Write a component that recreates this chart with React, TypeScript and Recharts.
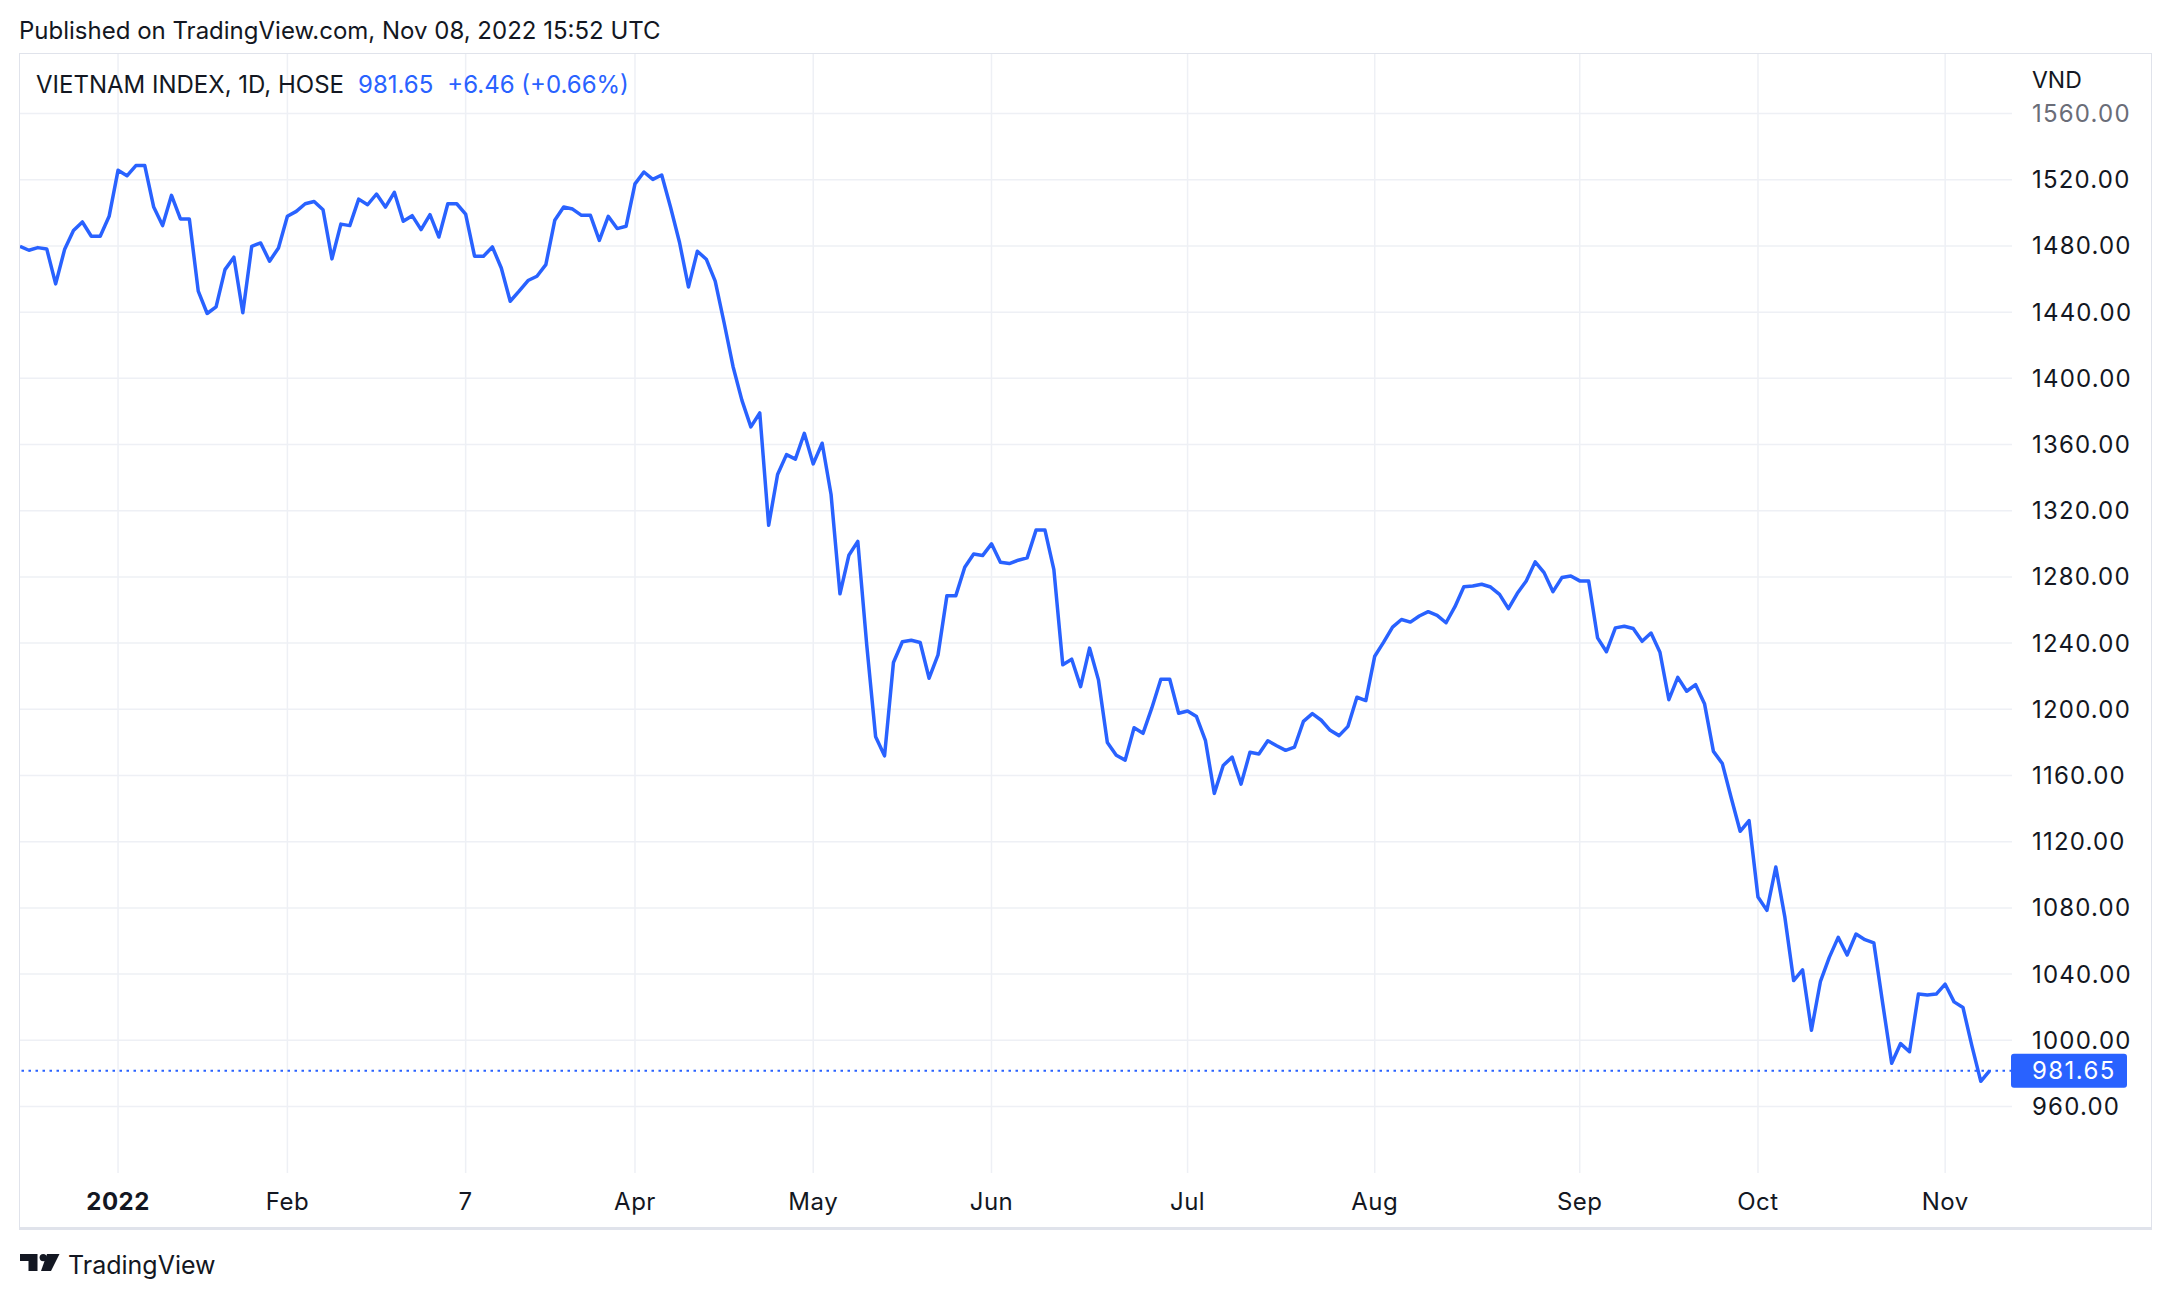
import React from 'react'
import {
  LineChart,
  Line,
  XAxis,
  YAxis,
  CartesianGrid,
  ReferenceLine,
} from 'recharts'

// VN-Index daily closes, 17 Dec 2021 .. 8 Nov 2022
const CLOSES: number[] = [
  1479.8, 1477.4, 1479.0, 1478.2, 1457.1, 1477.8, 1489.3, 1494.5, 1485.9, 1485.9,
  1497.9, 1525.7, 1522.4, 1528.6, 1528.6, 1503.5, 1492.3, 1510.6, 1496.3, 1496.3,
  1452.7, 1439.2, 1443.2, 1465.7, 1473.2, 1439.6, 1479.8, 1481.8, 1470.8, 1478.8,
  1497.9, 1500.9, 1505.5, 1506.9, 1501.9, 1472.2, 1493.2, 1492.3, 1508.3, 1504.9,
  1511.4, 1503.5, 1512.4, 1494.9, 1498.3, 1489.9, 1498.9, 1485.4, 1505.5, 1505.5,
  1499.3, 1473.8, 1473.8, 1479.4, 1466.7, 1446.6, 1452.7, 1459.1, 1461.7, 1468.7,
  1495.5, 1503.5, 1502.3, 1498.5, 1498.5, 1483.4, 1497.9, 1490.5, 1491.9, 1517.5,
  1524.7, 1520.2, 1522.9, 1503.2, 1482.1, 1455.2, 1476.8, 1472.0, 1458.8, 1433.6,
  1407.2, 1386.7, 1370.7, 1379.1, 1311.2, 1341.9, 1353.9, 1351.2, 1366.8, 1348.3,
  1360.8, 1329.8, 1269.8, 1293.1, 1301.5, 1239.1, 1183.4, 1171.9, 1228.3, 1240.8,
  1241.7, 1240.4, 1218.8, 1232.9, 1268.7, 1268.7, 1285.9, 1293.9, 1292.9, 1300.0,
  1288.9, 1288.1, 1290.1, 1291.5, 1308.3, 1308.3, 1284.4, 1226.9, 1230.3, 1213.7,
  1237.0, 1217.8, 1180.0, 1172.3, 1169.3, 1188.9, 1185.5, 1201.0, 1218.2, 1218.2,
  1197.6, 1199.0, 1195.6, 1181.3, 1149.2, 1166.1, 1171.1, 1154.8, 1174.0, 1173.0,
  1181.0, 1178.0, 1175.2, 1177.2, 1192.7, 1197.4, 1193.4, 1187.3, 1184.1, 1189.7,
  1207.3, 1205.3, 1232.1, 1240.6, 1249.7, 1254.3, 1252.7, 1256.4, 1259.0, 1256.8,
  1252.3, 1262.0, 1274.1, 1274.5, 1275.6, 1273.9, 1269.5, 1260.8, 1270.1, 1277.6,
  1289.1, 1282.6, 1271.1, 1279.6, 1280.6, 1277.6, 1277.6, 1243.2, 1234.8, 1249.2,
  1250.2, 1248.8, 1241.1, 1246.1, 1234.5, 1205.8, 1219.3, 1210.9, 1214.9, 1203.4,
  1174.6, 1167.2, 1146.4, 1126.3, 1132.7, 1086.6, 1078.5, 1104.7, 1074.9, 1036.1,
  1042.6, 1006.1, 1035.4, 1050.1, 1062.2, 1051.5, 1064.2, 1060.8, 1058.8, 1022.0,
  986.1, 998.0, 993.1, 1027.9, 1027.3, 1027.9, 1033.9, 1023.2, 1019.8, 996.6,
  975.2, 981.65,
]

// bar index of the first session of each labelled month
const MONTH_IDX = [11, 30, 50, 69, 89, 109, 131, 152, 175, 195, 216]
const MONTH_LABELS = ['2022', 'Feb', '7', 'Apr', 'May', 'Jun', 'Jul', 'Aug', 'Sep', 'Oct', 'Nov']

const PRICE_TICKS = [960, 1000, 1040, 1080, 1120, 1160, 1200, 1240, 1280, 1320, 1360, 1400, 1440, 1480, 1520, 1560]

const LAST = 981.65
const CHANGE = '+6.46 (+0.66%)'

const BLUE = '#2962ff'
const INK = '#131722'
const FONT = 'Inter, "Noto Sans", sans-serif'

const chartData = CLOSES.map((v, i) => ({ i, v }))

function TimeTick(props: any) {
  const { x, y, payload } = props
  const k = MONTH_IDX.indexOf(payload.value)
  const label = MONTH_LABELS[k] ?? ''
  return (
    <text
      x={x}
      y={y}
      textAnchor="middle"
      dominantBaseline="central"
      fontSize={24}
      fontFamily={FONT}
      fontWeight={label === '2022' ? 700 : 400}
      fill={INK}
      style={{ letterSpacing: '0.5px' }}
    >
      {label}
    </text>
  )
}

function PriceTick(props: any) {
  const { x, y, payload } = props
  return (
    <text
      x={x}
      y={y}
      textAnchor="start"
      dominantBaseline="central"
      fontSize={24}
      fontFamily={FONT}
      fill={payload.value === 1560 ? '#6a6d78' : INK}
      style={{ letterSpacing: '1.2px' }}
    >
      {payload.value.toFixed(2)}
    </text>
  )
}

function PriceTag(props: any) {
  const { viewBox } = props
  if (!viewBox) return null
  const right = viewBox.x + viewBox.width
  const cy = viewBox.y
  return (
    <g>
      <rect x={right - 1} y={cy - 17} width={116} height={34} rx={3} fill={BLUE} />
      <text
        x={right + 20}
        y={cy}
        textAnchor="start"
        dominantBaseline="central"
        fontSize={24}
        fontFamily={FONT}
        fill="#fff"
        style={{ letterSpacing: '1.4px' }}
      >
        {LAST.toFixed(2)}
      </text>
    </g>
  )
}

function TvLogo() {
  return (
    <svg width={40} height={17} viewBox="0 0 40 17" style={{ position: 'absolute', left: 20, top: 1254 }}>
      <path d="M0 0H17.5V17H8.5V7H0Z" fill={INK} />
      <circle cx={23.2} cy={3.6} r={3.6} fill={INK} />
      <path d="M27 0H39.5L31 17H21Z" fill={INK} />
    </svg>
  )
}

export default function App() {
  return (
    <div
      style={{
        position: 'absolute',
        left: 0,
        top: 0,
        width: 2172,
        height: 1300,
        background: '#fff',
        fontFamily: FONT,
        color: INK,
        overflow: 'hidden',
      }}
    >
      <div style={{ position: 'absolute', left: 19, top: 15, fontSize: 24, lineHeight: '32px', whiteSpace: 'nowrap' }}>
        Published on TradingView.com, Nov 08, 2022 15:52 UTC
      </div>

      <div
        style={{
          position: 'absolute',
          left: 19,
          top: 53,
          width: 2133,
          height: 1177,
          boxSizing: 'border-box',
          border: '1px solid #e0e3eb',
          borderBottomWidth: 3,
        }}
      />

      <div style={{ position: 'absolute', left: 0, top: 0 }}>
        <LineChart
          width={2172}
          height={1300}
          data={chartData}
          margin={{ top: 54, right: 20, bottom: 71, left: 20 }}
        >
          <CartesianGrid stroke="#eef0f5" strokeWidth={1.5} syncWithTicks />
          <XAxis
            dataKey="i"
            type="number"
            domain={[0, 223.5]}
            ticks={MONTH_IDX}
            interval={0}
            allowDataOverflow
            axisLine={false}
            tickLine={false}
            tickSize={0}
            tickMargin={28}
            height={56}
            tick={<TimeTick />}
          />
          <YAxis
            orientation="right"
            type="number"
            domain={[919.8, 1596]}
            ticks={PRICE_TICKS}
            interval={0}
            allowDataOverflow
            axisLine={false}
            tickLine={false}
            tickSize={0}
            tickMargin={20}
            width={140}
            tick={<PriceTick />}
          />
          <ReferenceLine
            y={LAST}
            stroke={BLUE}
            strokeWidth={2}
            strokeDasharray="2.5 4.5"
            label={<PriceTag />}
          />
          <Line
            type="linear"
            dataKey="v"
            stroke={BLUE}
            strokeWidth={3.5}
            strokeLinejoin="round"
            dot={false}
            activeDot={false}
            isAnimationActive={false}
          />
        </LineChart>
      </div>

      <div style={{ position: 'absolute', left: 36, top: 69, fontSize: 24, lineHeight: '32px', whiteSpace: 'nowrap' }}>
        <span>VIETNAM INDEX, 1D, HOSE</span>
        <span style={{ color: BLUE, marginLeft: 14 }}>{LAST.toFixed(2)}</span>
        <span style={{ color: BLUE, marginLeft: 14 }}>{CHANGE}</span>
      </div>

      <div style={{ position: 'absolute', left: 2032, top: 64, fontSize: 23, lineHeight: '32px' }}>VND</div>

      <TvLogo />
      <div style={{ position: 'absolute', left: 68, top: 1248, fontSize: 25, lineHeight: '34px', whiteSpace: 'nowrap' }}>
        TradingView
      </div>
    </div>
  )
}
